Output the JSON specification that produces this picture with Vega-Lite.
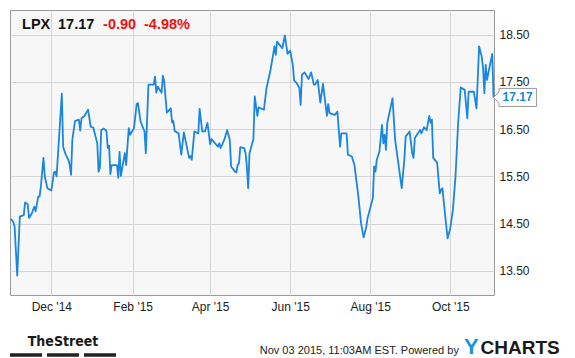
{
  "$schema": "https://vega.github.io/schema/vega-lite/v6.json",
  "width": 484,
  "height": 285,
  "padding": {"left": 10, "top": 10, "right": 81, "bottom": 63},
  "autosize": {"type": "none"},
  "background": "#ffffff",
  "config": {
    "view": {"stroke": "#9a9a9a", "strokeWidth": 1, "fill": "#f7f7f7"},
    "font": "Liberation Sans",
    "text": {"font": "Liberation Sans"}
  },
  "layer": [
    {
      "data": {"values": [
        {"date": "2014-10-31", "price": 14.60},
        {"date": "2014-11-02", "price": 14.54},
        {"date": "2014-11-03", "price": 14.44},
        {"date": "2014-11-05", "price": 13.40},
        {"date": "2014-11-07", "price": 14.65},
        {"date": "2014-11-10", "price": 14.68},
        {"date": "2014-11-11", "price": 14.95},
        {"date": "2014-11-13", "price": 14.91},
        {"date": "2014-11-14", "price": 14.62},
        {"date": "2014-11-16", "price": 14.71},
        {"date": "2014-11-18", "price": 14.86},
        {"date": "2014-11-19", "price": 14.76},
        {"date": "2014-11-21", "price": 15.07},
        {"date": "2014-11-22", "price": 15.07},
        {"date": "2014-11-23", "price": 15.28},
        {"date": "2014-11-25", "price": 15.89},
        {"date": "2014-11-26", "price": 15.50},
        {"date": "2014-11-28", "price": 15.25},
        {"date": "2014-12-01", "price": 15.20},
        {"date": "2014-12-03", "price": 15.58},
        {"date": "2014-12-04", "price": 15.60},
        {"date": "2014-12-05", "price": 15.50},
        {"date": "2014-12-09", "price": 17.25},
        {"date": "2014-12-10", "price": 16.12},
        {"date": "2014-12-12", "price": 15.96},
        {"date": "2014-12-14", "price": 15.85},
        {"date": "2014-12-15", "price": 15.74},
        {"date": "2014-12-16", "price": 15.53},
        {"date": "2014-12-17", "price": 16.27},
        {"date": "2014-12-19", "price": 16.67},
        {"date": "2014-12-22", "price": 16.70},
        {"date": "2014-12-23", "price": 16.47},
        {"date": "2014-12-24", "price": 16.73},
        {"date": "2014-12-26", "price": 16.77},
        {"date": "2014-12-29", "price": 16.91},
        {"date": "2014-12-31", "price": 16.55},
        {"date": "2015-01-02", "price": 16.53},
        {"date": "2015-01-05", "price": 16.20},
        {"date": "2015-01-06", "price": 15.60},
        {"date": "2015-01-07", "price": 15.69},
        {"date": "2015-01-08", "price": 16.48},
        {"date": "2015-01-10", "price": 16.51},
        {"date": "2015-01-12", "price": 16.46},
        {"date": "2015-01-13", "price": 16.10},
        {"date": "2015-01-14", "price": 16.15},
        {"date": "2015-01-15", "price": 15.55},
        {"date": "2015-01-16", "price": 15.74},
        {"date": "2015-01-20", "price": 15.74},
        {"date": "2015-01-21", "price": 15.47},
        {"date": "2015-01-22", "price": 16.02},
        {"date": "2015-01-23", "price": 15.51},
        {"date": "2015-01-26", "price": 15.99},
        {"date": "2015-01-27", "price": 15.74},
        {"date": "2015-01-29", "price": 16.52},
        {"date": "2015-01-30", "price": 16.38},
        {"date": "2015-02-02", "price": 16.52},
        {"date": "2015-02-04", "price": 17.03},
        {"date": "2015-02-05", "price": 17.05},
        {"date": "2015-02-07", "price": 16.66},
        {"date": "2015-02-10", "price": 16.45},
        {"date": "2015-02-11", "price": 15.99},
        {"date": "2015-02-13", "price": 17.44},
        {"date": "2015-02-17", "price": 17.44},
        {"date": "2015-02-18", "price": 17.61},
        {"date": "2015-02-19", "price": 17.27},
        {"date": "2015-02-20", "price": 17.40},
        {"date": "2015-02-23", "price": 17.27},
        {"date": "2015-02-24", "price": 17.63},
        {"date": "2015-02-25", "price": 17.51},
        {"date": "2015-02-27", "price": 16.85},
        {"date": "2015-03-02", "price": 16.94},
        {"date": "2015-03-03", "price": 16.64},
        {"date": "2015-03-04", "price": 16.67},
        {"date": "2015-03-05", "price": 16.46},
        {"date": "2015-03-08", "price": 16.41},
        {"date": "2015-03-10", "price": 15.96},
        {"date": "2015-03-12", "price": 16.43},
        {"date": "2015-03-16", "price": 15.89},
        {"date": "2015-03-17", "price": 15.93},
        {"date": "2015-03-18", "price": 15.85},
        {"date": "2015-03-20", "price": 16.45},
        {"date": "2015-03-23", "price": 16.41},
        {"date": "2015-03-24", "price": 16.93},
        {"date": "2015-03-26", "price": 16.45},
        {"date": "2015-03-28", "price": 16.45},
        {"date": "2015-03-30", "price": 16.63},
        {"date": "2015-04-01", "price": 16.18},
        {"date": "2015-04-02", "price": 16.29},
        {"date": "2015-04-07", "price": 16.13},
        {"date": "2015-04-08", "price": 16.20},
        {"date": "2015-04-09", "price": 16.10},
        {"date": "2015-04-12", "price": 16.29},
        {"date": "2015-04-14", "price": 16.48},
        {"date": "2015-04-16", "price": 16.27},
        {"date": "2015-04-17", "price": 15.71},
        {"date": "2015-04-20", "price": 15.60},
        {"date": "2015-04-21", "price": 15.58},
        {"date": "2015-04-22", "price": 15.74},
        {"date": "2015-04-23", "price": 15.78},
        {"date": "2015-04-24", "price": 16.12},
        {"date": "2015-04-27", "price": 16.10},
        {"date": "2015-04-28", "price": 15.99},
        {"date": "2015-04-29", "price": 15.71},
        {"date": "2015-04-30", "price": 15.25},
        {"date": "2015-05-01", "price": 15.99},
        {"date": "2015-05-04", "price": 16.29},
        {"date": "2015-05-05", "price": 17.19},
        {"date": "2015-05-07", "price": 16.78},
        {"date": "2015-05-08", "price": 16.96},
        {"date": "2015-05-12", "price": 16.91},
        {"date": "2015-05-14", "price": 17.37},
        {"date": "2015-05-17", "price": 17.75},
        {"date": "2015-05-19", "price": 18.07},
        {"date": "2015-05-20", "price": 18.25},
        {"date": "2015-05-21", "price": 18.07},
        {"date": "2015-05-22", "price": 18.35},
        {"date": "2015-05-26", "price": 18.21},
        {"date": "2015-05-28", "price": 18.48},
        {"date": "2015-05-30", "price": 18.09},
        {"date": "2015-06-01", "price": 18.16},
        {"date": "2015-06-03", "price": 17.86},
        {"date": "2015-06-04", "price": 17.53},
        {"date": "2015-06-06", "price": 17.47},
        {"date": "2015-06-08", "price": 17.37},
        {"date": "2015-06-09", "price": 17.01},
        {"date": "2015-06-10", "price": 17.65},
        {"date": "2015-06-12", "price": 17.70},
        {"date": "2015-06-15", "price": 17.56},
        {"date": "2015-06-17", "price": 17.70},
        {"date": "2015-06-19", "price": 17.44},
        {"date": "2015-06-20", "price": 17.44},
        {"date": "2015-06-22", "price": 17.54},
        {"date": "2015-06-24", "price": 17.06},
        {"date": "2015-06-26", "price": 17.46},
        {"date": "2015-06-29", "price": 16.78},
        {"date": "2015-06-30", "price": 17.03},
        {"date": "2015-07-01", "price": 16.84},
        {"date": "2015-07-05", "price": 16.80},
        {"date": "2015-07-07", "price": 16.87},
        {"date": "2015-07-09", "price": 16.13},
        {"date": "2015-07-10", "price": 16.41},
        {"date": "2015-07-14", "price": 16.41},
        {"date": "2015-07-15", "price": 15.96},
        {"date": "2015-07-18", "price": 15.92},
        {"date": "2015-07-20", "price": 15.74},
        {"date": "2015-07-23", "price": 15.07},
        {"date": "2015-07-25", "price": 14.51},
        {"date": "2015-07-27", "price": 14.21},
        {"date": "2015-07-29", "price": 14.43},
        {"date": "2015-07-30", "price": 14.62},
        {"date": "2015-08-03", "price": 15.04},
        {"date": "2015-08-04", "price": 15.71},
        {"date": "2015-08-05", "price": 15.60},
        {"date": "2015-08-06", "price": 15.85},
        {"date": "2015-08-08", "price": 16.02},
        {"date": "2015-08-10", "price": 16.59},
        {"date": "2015-08-11", "price": 16.20},
        {"date": "2015-08-12", "price": 16.38},
        {"date": "2015-08-13", "price": 16.06},
        {"date": "2015-08-14", "price": 16.63},
        {"date": "2015-08-18", "price": 17.15},
        {"date": "2015-08-20", "price": 16.27},
        {"date": "2015-08-25", "price": 15.25},
        {"date": "2015-08-27", "price": 15.85},
        {"date": "2015-08-28", "price": 16.34},
        {"date": "2015-08-31", "price": 16.45},
        {"date": "2015-09-02", "price": 15.99},
        {"date": "2015-09-03", "price": 15.89},
        {"date": "2015-09-04", "price": 16.31},
        {"date": "2015-09-08", "price": 16.48},
        {"date": "2015-09-09", "price": 16.41},
        {"date": "2015-09-11", "price": 16.54},
        {"date": "2015-09-13", "price": 16.48},
        {"date": "2015-09-15", "price": 16.78},
        {"date": "2015-09-16", "price": 16.63},
        {"date": "2015-09-17", "price": 16.70},
        {"date": "2015-09-18", "price": 15.89},
        {"date": "2015-09-21", "price": 15.79},
        {"date": "2015-09-23", "price": 15.14},
        {"date": "2015-09-24", "price": 15.21},
        {"date": "2015-09-25", "price": 15.25},
        {"date": "2015-09-28", "price": 14.44},
        {"date": "2015-09-29", "price": 14.19},
        {"date": "2015-10-01", "price": 14.40},
        {"date": "2015-10-03", "price": 14.79},
        {"date": "2015-10-05", "price": 15.50},
        {"date": "2015-10-07", "price": 16.63},
        {"date": "2015-10-09", "price": 17.38},
        {"date": "2015-10-12", "price": 17.33},
        {"date": "2015-10-14", "price": 16.73},
        {"date": "2015-10-15", "price": 17.29},
        {"date": "2015-10-19", "price": 17.29},
        {"date": "2015-10-21", "price": 16.94},
        {"date": "2015-10-23", "price": 18.25},
        {"date": "2015-10-25", "price": 18.03},
        {"date": "2015-10-26", "price": 17.79},
        {"date": "2015-10-27", "price": 17.26},
        {"date": "2015-10-28", "price": 17.86},
        {"date": "2015-10-29", "price": 17.54},
        {"date": "2015-10-31", "price": 17.82},
        {"date": "2015-11-02", "price": 18.09},
        {"date": "2015-11-03", "price": 17.17}
      ]},
      "mark": {"type": "line", "color": "#1a86e0", "strokeWidth": 1.8, "strokeJoin": "round"},
      "encoding": {
        "x": {
          "field": "date", "type": "temporal",
          "scale": {"type": "utc", "domain": [
            {"year": 2014, "month": 10, "date": 30, "hours": 12, "utc": true},
            {"year": 2015, "month": 11, "date": 3, "hours": 8, "utc": true}
          ]},
          "axis": {
            "title": null,
            "values": [
              {"year": 2014, "month": 12, "date": 1, "utc": true},
              {"year": 2015, "month": 2, "date": 1, "utc": true},
              {"year": 2015, "month": 4, "date": 1, "utc": true},
              {"year": 2015, "month": 6, "date": 1, "utc": true},
              {"year": 2015, "month": 8, "date": 1, "utc": true},
              {"year": 2015, "month": 10, "date": 1, "utc": true}
            ],
            "labelExpr": "utcFormat(datum.value, \"%b '%y\")",
            "domain": false, "ticks": false, "grid": true,
            "gridColor": "#d6d6d6", "gridWidth": 1,
            "labelPadding": 6, "labelFontSize": 12, "labelColor": "#222222",
            "labelFont": "Liberation Sans", "labelFlush": false, "labelOverlap": false
          }
        },
        "y": {
          "field": "price", "type": "quantitative",
          "scale": {"domain": [12.99, 19.02], "nice": false, "zero": false},
          "axis": {
            "title": null, "orient": "right",
            "values": [13.5, 14.5, 15.5, 16.5, 17.5, 18.5],
            "format": ".2f",
            "domain": false, "ticks": false, "grid": true,
            "gridColor": "#d6d6d6", "gridWidth": 1,
            "labelPadding": 5, "labelFontSize": 12, "labelColor": "#222222",
            "labelFont": "Liberation Sans", "labelFlush": false, "labelOverlap": false
          }
        }
      }
    },
    {
      "data": {"values": [{}]},
      "mark": {"type": "text", "text": "LPX", "align": "left", "baseline": "alphabetic", "fontSize": 14.5, "fontWeight": "bold", "color": "#111111"},
      "encoding": {
        "x": {"datum": {"year": 2014, "month": 11, "date": 8, "hours": 17, "utc": true}, "type": "temporal"},
        "y": {"datum": 18.62, "type": "quantitative"}
      }
    },
    {
      "data": {"values": [{}]},
      "mark": {"type": "text", "text": "17.17", "align": "left", "baseline": "alphabetic", "fontSize": 14.5, "fontWeight": "bold", "color": "#111111"},
      "encoding": {
        "x": {"datum": {"year": 2014, "month": 12, "date": 6, "hours": 2, "utc": true}, "type": "temporal"},
        "y": {"datum": 18.62, "type": "quantitative"}
      }
    },
    {
      "data": {"values": [{}]},
      "mark": {"type": "text", "text": "-0.90", "align": "left", "baseline": "alphabetic", "fontSize": 14.5, "fontWeight": "bold", "color": "#ee1111"},
      "encoding": {
        "x": {"datum": {"year": 2015, "month": 1, "date": 9, "hours": 10, "utc": true}, "type": "temporal"},
        "y": {"datum": 18.62, "type": "quantitative"}
      }
    },
    {
      "data": {"values": [{}]},
      "mark": {"type": "text", "text": "-4.98%", "align": "left", "baseline": "alphabetic", "fontSize": 14.5, "fontWeight": "bold", "color": "#ee1111"},
      "encoding": {
        "x": {"datum": {"year": 2015, "month": 2, "date": 9, "hours": 15, "utc": true}, "type": "temporal"},
        "y": {"datum": 18.62, "type": "quantitative"}
      }
    },
    {
      "data": {"values": [{}]},
      "mark": {"type": "point", "shape": "M0,0L0.25,-0.25L0.25,-0.42L2,-0.42L2,0.42L0.25,0.42L0.25,0.25Z", "size": 1849, "filled": true, "fill": "#ffffff", "stroke": "#999999", "strokeWidth": 1, "opacity": 1},
      "encoding": {
        "x": {"datum": {"year": 2015, "month": 11, "date": 3, "utc": true}, "type": "temporal"},
        "y": {"datum": 17.17, "type": "quantitative"}
      }
    },
    {
      "data": {"values": [{}]},
      "mark": {"type": "text", "text": "17.17", "align": "left", "baseline": "middle", "dx": 9, "fontSize": 12, "fontWeight": "bold", "color": "#1a86e0"},
      "encoding": {
        "x": {"datum": {"year": 2015, "month": 11, "date": 3, "utc": true}, "type": "temporal"},
        "y": {"datum": 17.17, "type": "quantitative"}
      }
    },
    {
      "data": {"values": [{}]},
      "mark": {"type": "text", "text": "TheStreet", "align": "center", "baseline": "alphabetic", "fontSize": 14, "fontWeight": "bold", "font": "'DejaVu Sans Condensed', 'Liberation Sans', sans-serif", "color": "#1a1a1a"},
      "encoding": {
        "x": {"datum": {"year": 2014, "month": 12, "date": 9, "hours": 22, "utc": true}, "type": "temporal"},
        "y": {"datum": 11.92, "type": "quantitative"}
      }
    },
    {
      "data": {"values": [{}]},
      "mark": {"type": "rule", "color": "#222222", "strokeWidth": 3.5},
      "encoding": {
        "x": {"datum": {"year": 2014, "month": 10, "date": 30, "hours": 12, "utc": true}, "type": "temporal"},
        "x2": {"datum": {"year": 2014, "month": 11, "date": 23, "hours": 22, "utc": true}},
        "y": {"datum": 11.72, "type": "quantitative"}
      }
    },
    {
      "data": {"values": [{}]},
      "mark": {"type": "rule", "color": "#222222", "strokeWidth": 3.5},
      "encoding": {
        "x": {"datum": {"year": 2014, "month": 11, "date": 27, "hours": 17, "utc": true}, "type": "temporal"},
        "x2": {"datum": {"year": 2014, "month": 12, "date": 22, "hours": 2, "utc": true}},
        "y": {"datum": 11.72, "type": "quantitative"}
      }
    },
    {
      "data": {"values": [{}]},
      "mark": {"type": "rule", "color": "#222222", "strokeWidth": 3.5},
      "encoding": {
        "x": {"datum": {"year": 2014, "month": 12, "date": 25, "hours": 22, "utc": true}, "type": "temporal"},
        "x2": {"datum": {"year": 2015, "month": 1, "date": 19, "hours": 7, "utc": true}},
        "y": {"datum": 11.72, "type": "quantitative"}
      }
    },
    {
      "data": {"values": [{}]},
      "mark": {"type": "text", "text": "Nov 03 2015, 11:03AM EST. Powered by", "align": "right", "baseline": "alphabetic", "fontSize": 11, "color": "#222222"},
      "encoding": {
        "x": {"datum": {"year": 2015, "month": 10, "date": 7, "hours": 14, "utc": true}, "type": "temporal"},
        "y": {"datum": 11.74, "type": "quantitative"}
      }
    },
    {
      "data": {"values": [{}]},
      "mark": {"type": "text", "text": "Y", "align": "left", "baseline": "alphabetic", "fontSize": 22, "fontWeight": "bold", "color": "#1a95dc"},
      "encoding": {
        "x": {"datum": {"year": 2015, "month": 10, "date": 11, "hours": 10, "utc": true}, "type": "temporal"},
        "y": {"datum": 11.74, "type": "quantitative"}
      }
    },
    {
      "data": {"values": [{}]},
      "mark": {"type": "text", "text": "CHARTS", "align": "left", "baseline": "alphabetic", "fontSize": 19, "fontWeight": "bold", "dx": -2, "color": "#1a1a1a"},
      "encoding": {
        "x": {"datum": {"year": 2015, "month": 10, "date": 25, "hours": 14, "utc": true}, "type": "temporal"},
        "y": {"datum": 11.74, "type": "quantitative"}
      }
    }
  ]
}
